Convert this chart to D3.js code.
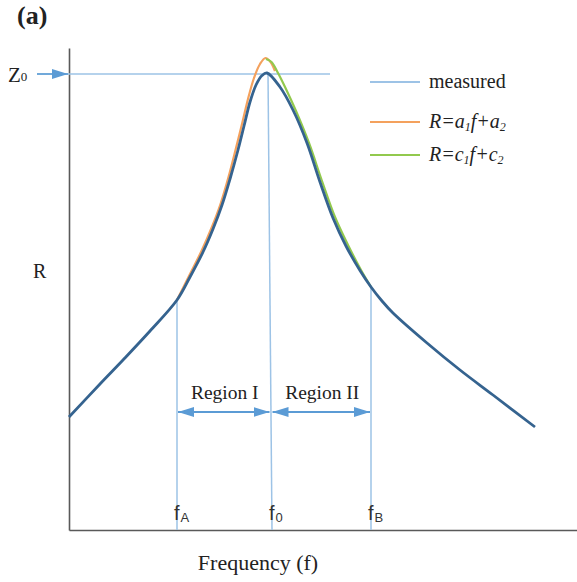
<!DOCTYPE html>
<html>
<head>
<meta charset="utf-8">
<script src="https://cdn.jsdelivr.net/npm/d3@7"></script>
<style>
  body { margin: 0; background: #fff; }
  svg { display: block; }
</style>
</head>
<body>
<div id="chart"></div>
<script>
// curve values (arbitrary units, no ticks on the axes)
var measuredF = [0, 6.2, 10.8, 16.2, 21.6, 24.2, 26.8, 28.8, 30.6, 32.2, 33.8, 35.0, 36.2, 37.4, 38.6, 39.6, 42.2, 44.8, 47.6, 50.2, 52.8, 55.4, 58.2, 60.4, 62.6, 64.8, 71.6, 78.2, 84.8, 93.2];
var measuredR = [22.6, 29.2, 34, 39.8, 46, 50.6, 55.6, 60.2, 65, 70.2, 76, 80.8, 85.6, 89, 90.9, 91.4, 88.6, 84, 77.4, 69.6, 62.4, 56.8, 51.9, 48.6, 45.8, 43.4, 37.4, 32, 27, 20.6];

var fitAF = [21.6, 24.0, 26.5, 28.5, 30.3, 31.9, 33.4, 34.6, 35.8, 37.0, 38.2, 39.3, 40.3, 41.2];
var fitAR = [46, 50.8, 55.8, 60.4, 65.2, 70.6, 76.4, 81.2, 86.2, 90.4, 93.2, 94.4, 93.6, 91.8];

var fitCF = [39.4, 40.5, 41.8, 43.3, 45.4, 48.0, 50.6, 53.2, 55.8, 58.4, 60.4];
var fitCR = [94.2, 93.6, 91.4, 88.4, 83.8, 77.4, 69.8, 62.6, 57, 52, 48.6];

// marker lines fA, f0, fB
var markerNames = ["A", "0", "B"];
var markerTopF = [21.6, 39.8, 60.4];
var markerBottomF = [21.6, 40.6, 60.4];
var markerTopR = [46, 91.4, 48.6];

var z0 = 91.2;
var regionNames = ["Region I", "Region II"];
var regionFrom = [21.6, 40.5];
var regionTo = [40.3, 60.4];
var regionR = 23.6;

var legendNames = ["measured", "a", "c"];
var legendColors = ["#9dc3e6", "#f4a15d", "#92c94e"];

var width = 577, height = 582;

var svg = d3.select("#chart")
    .append("svg")
    .attr("width", width)
    .attr("height", height);

var x = d3.scaleLinear().domain([0, 101.6]).range([69, 577]);
var y = d3.scaleLinear().domain([0, 96.4]).range([530, 48]);

// defs for arrowheads
var defs = svg.append("defs");
defs.append("marker")
    .attr("id", "head")
    .attr("viewBox", "0 0 16 10")
    .attr("refX", 16)
    .attr("refY", 5)
    .attr("markerWidth", 16)
    .attr("markerHeight", 10)
    .attr("markerUnits", "userSpaceOnUse")
    .attr("orient", "auto-start-reverse")
    .append("path")
    .attr("d", "M0,0L16,5L0,10Z")
    .attr("fill", "#5b9bd5");

// axes without ticks
svg.append("g")
    .attr("transform", "translate(0," + y(0) + ")")
    .call(d3.axisBottom(x).tickValues([]).tickSizeOuter(0))
    .select(".domain")
    .attr("stroke", "#595959")
    .attr("stroke-width", 1.6);

svg.append("g")
    .attr("transform", "translate(" + x(0) + ",0)")
    .call(d3.axisLeft(y).tickValues([]).tickSizeOuter(0))
    .select(".domain")
    .attr("stroke", "#595959")
    .attr("stroke-width", 1.6);

// Z0 level line with arrow
svg.append("line")
    .attr("x1", x(-6.4)).attr("x2", x(52.2))
    .attr("y1", y(z0)).attr("y2", y(z0))
    .attr("stroke", "#9dc3e6")
    .attr("stroke-width", 1.5);
svg.append("line")
    .attr("x1", x(-6.4)).attr("x2", x(-0.2))
    .attr("y1", y(z0)).attr("y2", y(z0))
    .attr("stroke", "#5b9bd5")
    .attr("stroke-width", 1.5)
    .attr("marker-end", "url(#head)");

// vertical marker lines
markerNames.forEach(function (m, i) {
    svg.append("line")
        .attr("x1", x(markerTopF[i])).attr("x2", x(markerBottomF[i]))
        .attr("y1", y(markerTopR[i])).attr("y2", y(0))
        .attr("stroke", "#9dc3e6")
        .attr("stroke-width", 1.5);

    var t = svg.append("text")
        .attr("x", x(markerBottomF[i]) - 3)
        .attr("y", 520)
        .attr("font-family", "Liberation Sans, Arial, sans-serif")
        .attr("font-size", 20)
        .attr("fill", "#333");
    t.append("tspan").text("f");
    t.append("tspan").attr("font-size", 13).attr("dy", 2).attr("dx", 1).text(m);
});

// region arrows
regionNames.forEach(function (r, i) {
    svg.append("line")
        .attr("x1", x(regionFrom[i]) + 1).attr("x2", x(regionTo[i]) - 1)
        .attr("y1", y(regionR)).attr("y2", y(regionR))
        .attr("stroke", "#5b9bd5")
        .attr("stroke-width", 2)
        .attr("marker-start", "url(#head)")
        .attr("marker-end", "url(#head)");
    svg.append("text")
        .attr("x", (x(regionFrom[i]) + x(regionTo[i])) / 2 + 1)
        .attr("y", 399)
        .attr("text-anchor", "middle")
        .attr("font-family", "Liberation Serif, Times New Roman, serif")
        .attr("font-size", 19.5)
        .attr("fill", "#222")
        .text(r);
});

// curves
var line = d3.line()
    .x(function (d) { return x(d[0]); })
    .y(function (d) { return y(d[1]); })
    .curve(d3.curveCatmullRom.alpha(0.5));

svg.append("path")
    .datum(d3.zip(fitAF, fitAR))
    .attr("d", line)
    .attr("fill", "none")
    .attr("stroke", legendColors[1])
    .attr("stroke-width", 2.2);

svg.append("path")
    .datum(d3.zip(fitCF, fitCR))
    .attr("d", line)
    .attr("fill", "none")
    .attr("stroke", legendColors[2])
    .attr("stroke-width", 2.2);

svg.append("path")
    .datum(d3.zip(measuredF, measuredR))
    .attr("d", line)
    .attr("fill", "none")
    .attr("stroke", "#35638f")
    .attr("stroke-width", 2.8);

// legend
var legendY = [82, 122, 155];
var legend = svg.append("g");
legendNames.forEach(function (n, i) {
    legend.append("line")
        .attr("x1", 370).attr("x2", 420)
        .attr("y1", legendY[i]).attr("y2", legendY[i])
        .attr("stroke", legendColors[i])
        .attr("stroke-width", 2);
    var t = legend.append("text")
        .attr("x", 429)
        .attr("y", legendY[i] + 6)
        .attr("font-family", "Liberation Serif, Times New Roman, serif")
        .attr("font-size", 20)
        .attr("fill", "#222");
    if (i == 0) {
        t.text(n);
    } else {
        t.attr("font-style", "italic");
        t.append("tspan").text("R=" + n);
        t.append("tspan").attr("font-size", 12).attr("dy", 3).text("1");
        t.append("tspan").attr("dy", -3).text("f+" + n);
        t.append("tspan").attr("font-size", 12).attr("dy", 3).text("2");
    }
});

// labels
svg.append("text")
    .attr("x", 17).attr("y", 24)
    .attr("font-family", "Liberation Serif, Times New Roman, serif")
    .attr("font-weight", "bold")
    .attr("font-size", 26)
    .attr("fill", "#222")
    .text("(a)");

var zt = svg.append("text")
    .attr("x", 8).attr("y", 82)
    .attr("font-family", "Liberation Serif, Times New Roman, serif")
    .attr("font-size", 21)
    .attr("fill", "#222");
zt.append("tspan").text("Z");
zt.append("tspan").attr("font-size", 13).attr("dy", -1).text("0");

svg.append("text")
    .attr("x", 33).attr("y", 278)
    .attr("font-family", "Liberation Serif, Times New Roman, serif")
    .attr("font-size", 20)
    .attr("fill", "#222")
    .text("R");

svg.append("text")
    .attr("x", 258).attr("y", 570)
    .attr("text-anchor", "middle")
    .attr("font-family", "Liberation Serif, Times New Roman, serif")
    .attr("font-size", 22)
    .attr("fill", "#222")
    .text("Frequency (f)");
</script>
</body>
</html>
